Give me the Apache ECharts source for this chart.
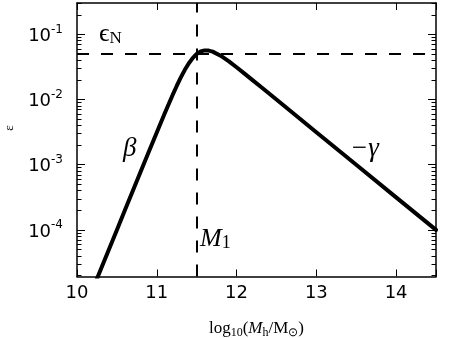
<!DOCTYPE html>
<html>
<head>
<meta charset="utf-8">
<script src="https://cdn.jsdelivr.net/npm/echarts@6/dist/echarts.min.js"></script>
<style>html,body{margin:0;padding:0;background:#fff}#c{width:450px;height:338px}</style>
</head>
<body>
<div id="c"></div>
<script>
// halo mass log10(Mh/Msun)
var logMass = [10.2, 10.3, 10.4, 10.5, 10.6, 10.7, 10.8, 10.9, 11.0, 11.1, 11.2, 11.25, 11.3, 11.35, 11.4, 11.45, 11.5, 11.55, 11.6, 11.65, 11.7, 11.8, 11.9, 12.0, 12.1, 12.2, 12.3, 12.4, 12.5, 13.0, 13.5, 14.0, 14.5];
// efficiency epsilon
var epsilon = [1.26e-5, 2.51e-5, 5.01e-5, 1.0e-4, 2.0e-4, 3.98e-4, 7.92e-4, 1.578e-3, 3.13e-3, 6.15e-3, 0.01183, 0.01618, 0.02168, 0.02838, 0.03581, 0.04335, 0.05, 0.05458, 0.05675, 0.05649, 0.05445, 0.04710, 0.03882, 0.03133, 0.02500, 0.01991, 0.01585, 0.01259, 0.01, 3.16e-3, 1.0e-3, 3.16e-4, 1.0e-4];
var xTicks = [10, 11, 12, 13, 14];
var yDecades = [-4, -3, -2, -1];
var epsN = 0.05;
var M1 = 11.5;
var xMin = 10, xMax = 14.5;
var yLogMin = -4.715, yLogMax = -0.518;

var minorTicks = [];
for (var d = -5; d <= 0; d++) {
  for (var k = 2; k <= 9; k++) {
    var v = d + Math.log10(k);
    if (v > yLogMin && v < yLogMax) minorTicks.push(Math.round(v * 10000) / 10000);
  }
}

var chart = echarts.init(document.getElementById('c'), null, {renderer: 'canvas'});
var black = '#000';
var tickFont = 'DejaVu Sans';
var serif = 'Liberation Serif';

function valueY(opts) {
  return Object.assign({
    type: 'value', min: yLogMin, max: yLogMax, gridIndex: 0,
    axisLine: {show: false}, splitLine: {show: false},
    axisLabel: {show: false}
  }, opts);
}

var option = {
  animation: false,
  backgroundColor: '#fff',
  grid: {left: 77, right: 14, top: 3, bottom: 61.5, containLabel: false, outerBoundsMode: 'none'},
  xAxis: [
    {
      type: 'value', min: xMin, max: xMax, interval: 1, position: 'bottom',
      axisLine: {show: true, onZero: false, lineStyle: {color: black, width: 1.5}},
      axisTick: {show: true, inside: true, length: 7, lineStyle: {color: black, width: 1}},
      axisLabel: {show: true, margin: 8, color: black, fontFamily: tickFont, fontSize: 18,
        customValues: xTicks, formatter: function (v) { return String(v); }},
      splitLine: {show: false},
      name: '{t|log}{sub|10}{t|(}{it|M}{sub|h}{t|/M}{sub|⊙}{t|)}',
      nameLocation: 'middle', nameGap: 42,
      nameTextStyle: {
        rich: {
          t: {fontFamily: serif, fontSize: 17, color: black, lineHeight: 20},
          it: {fontFamily: serif, fontStyle: 'italic', fontSize: 17, color: black, lineHeight: 20},
          sub: {fontFamily: serif, fontSize: 12, color: black, verticalAlign: 'bottom', lineHeight: 14}
        }
      }
    },
    {
      type: 'value', min: xMin, max: xMax, interval: 1, position: 'top',
      axisLine: {show: true, onZero: false, lineStyle: {color: black, width: 1.5}},
      axisTick: {show: true, inside: true, length: 7, lineStyle: {color: black, width: 1}},
      axisLabel: {show: false}, splitLine: {show: false}
    }
  ],
  yAxis: [
    {
      type: 'log', logBase: 10, min: Math.pow(10, yLogMin), max: Math.pow(10, yLogMax),
      position: 'left',
      axisLine: {show: true, onZero: false, lineStyle: {color: black, width: 1.5}},
      axisTick: {show: false}, axisLabel: {show: false}, splitLine: {show: false}, minorTick: {show: false}
    },
    valueY({position: 'left',
      axisTick: {show: true, inside: true, length: 8, customValues: yDecades, lineStyle: {color: black, width: 1}},
      axisLabel: {show: true, customValues: yDecades, margin: 14,
        formatter: function (v) { return '{b|10}{s|' + Math.round(v) + '}'; },
        rich: {
          b: {fontFamily: tickFont, fontSize: 18, color: black, lineHeight: 22, verticalAlign: 'bottom'},
          s: {fontFamily: tickFont, fontSize: 12, color: black, lineHeight: 22, verticalAlign: 'top', padding: [0, 0, 6, 0]}
        }}
    }),
    valueY({position: 'left',
      axisTick: {show: true, inside: true, length: 4.5, customValues: minorTicks, lineStyle: {color: black, width: 1}},
      axisLabel: {show: false, customValues: minorTicks}
    }),
    {
      type: 'log', logBase: 10, min: Math.pow(10, yLogMin), max: Math.pow(10, yLogMax),
      position: 'right',
      axisLine: {show: true, onZero: false, lineStyle: {color: black, width: 1.5}},
      axisTick: {show: false}, axisLabel: {show: false}, splitLine: {show: false}
    },
    valueY({position: 'right',
      axisTick: {show: true, inside: true, length: 8, customValues: yDecades, lineStyle: {color: black, width: 1}}
    }),
    valueY({position: 'right',
      axisTick: {show: true, inside: true, length: 4.5, customValues: minorTicks, lineStyle: {color: black, width: 1}},
      axisLabel: {show: false, customValues: minorTicks}
    })
  ],
  series: [
    {
      type: 'line', xAxisIndex: 0, yAxisIndex: 0,
      data: logMass.map(function (m, i) { return [m, epsilon[i]]; }),
      showSymbol: false, symbol: 'none', smooth: false, clip: true,
      lineStyle: {color: black, width: 4, join: 'round', cap: 'round'},
      markLine: {
        silent: true, symbol: ['none', 'none'], label: {show: false},
        lineStyle: {color: black, width: 2, type: [12, 12]},
        data: [{yAxis: epsN}, {xAxis: M1}]
      },
      z: 3
    }
  ],
  graphic: [
    {type: 'text', left: 99, top: 21, silent: true,
      style: {text: '{e|ϵ}{n|N}', rich: {
        e: {fontFamily: serif, fontSize: 26, fill: black, lineHeight: 26, verticalAlign: 'bottom'},
        n: {fontFamily: serif, fontSize: 17, fill: black, lineHeight: 26, verticalAlign: 'bottom'}
      }}},
    {type: 'text', left: 123, top: 135, silent: true,
      style: {text: 'β', fontFamily: serif, fontStyle: 'italic', fontSize: 27, fill: black}},
    {type: 'text', left: 200, top: 226, silent: true,
      style: {text: '{m|M}{s|1}', rich: {
        m: {fontFamily: serif, fontStyle: 'italic', fontSize: 26, fill: black, lineHeight: 28, verticalAlign: 'bottom'},
        s: {fontFamily: serif, fontSize: 18, fill: black, lineHeight: 32, verticalAlign: 'bottom'}
      }}},
    {type: 'text', left: 350, top: 135, silent: true,
      style: {text: '−γ', fontFamily: serif, fontStyle: 'italic', fontSize: 27, fill: black}},
    {type: 'text', x: 3, y: 128, rotation: Math.PI / 2, silent: true,
      style: {text: 'ε', fontFamily: serif, fontSize: 13, fill: black, align: 'center', verticalAlign: 'top'}}
  ]
};
chart.setOption(option);
</script>
</body>
</html>
